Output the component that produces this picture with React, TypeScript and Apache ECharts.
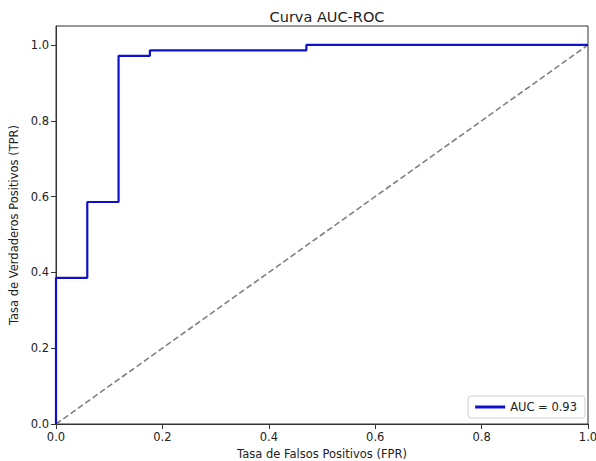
import React, { useEffect, useRef } from "react";
import * as echarts from "echarts";

const fpr = [0, 0, 0.0588, 0.0588, 0.1176, 0.1176, 0.1765, 0.1765, 0.4706, 0.4706, 1.0];
const tpr = [0, 0.3857, 0.3857, 0.5857, 0.5857, 0.9714, 0.9714, 0.9857, 0.9857, 1.0, 1.0];
const diagX = [0, 1];
const diagY = [0, 1];
const tickValues = [0, 0.2, 0.4, 0.6, 0.8, 1.0];
const legendLabel = "AUC = 0.93";
const titleText = "Curva AUC-ROC";
const xName = "Tasa de Falsos Positivos (FPR)";
const yName = "Tasa de Verdaderos Positivos (TPR)";

const FONT = "DejaVu Sans";

export default function App() {
  const ref = useRef<HTMLDivElement>(null);
  useEffect(() => {
    if (!ref.current) return;
    const chart = echarts.init(ref.current, null, { renderer: "svg" });
    const axisCommon = {
      type: "value" as const,
      interval: 0.2,
      splitLine: { show: false },
      axisLine: { show: true, lineStyle: { color: "#333", width: 1 } },
      axisTick: { show: true, inside: false, length: 5, lineStyle: { color: "#333" }, customValues: tickValues },
      axisLabel: {
        color: "#222",
        fontFamily: FONT,
        fontSize: 11.5,
        margin: 7,
        customValues: tickValues,
        formatter: (v: number) => v.toFixed(1),
      },
      nameLocation: "middle" as const,
      nameTextStyle: { color: "#222", fontFamily: FONT, fontSize: 11.5 },
    };
    chart.setOption({
      animation: false,
      backgroundColor: "#fff",
      title: {
        text: titleText,
        left: 322,
        textAlign: "center",
        top: 4,
        textStyle: { fontFamily: FONT, fontSize: 14.5, fontWeight: "normal", color: "#222" },
      },
      grid: {
        left: 56,
        right: 8,
        top: 26,
        bottom: 37,
        outerBoundsMode: "none",
        containLabel: false,
        show: true,
        borderColor: "#333",
        borderWidth: 1,
        backgroundColor: "transparent",
      },
      legend: {
        data: [legendLabel],
        right: 11,
        bottom: 43,
        orient: "vertical",
        icon: "path://M0,0 L30,0 L30,3 L0,3 Z",
        itemWidth: 30,
        itemHeight: 3,
        itemGap: 4,
        padding: [5, 8, 5, 7],
        borderColor: "#d0d0d0",
        borderWidth: 1,
        borderRadius: 3,
        backgroundColor: "rgba(255,255,255,0.8)",
        textStyle: { fontFamily: FONT, fontSize: 11.5, color: "#222" },
      },
      xAxis: {
        ...axisCommon,
        min: 0,
        max: 1,
        name: xName,
        nameGap: 23,
      },
      yAxis: {
        ...axisCommon,
        min: 0,
        max: 1.05,
        name: yName,
        nameGap: 30,
      },
      series: [
        {
          name: "diag",
          type: "line",
          data: diagX.map((x, i) => [x, diagY[i]]),
          showSymbol: false,
          symbol: "none",
          lineStyle: { color: "#808080", width: 1.6, type: [6, 3] },
          silent: true,
          z: 1,
        },
        {
          name: legendLabel,
          type: "line",
          data: fpr.map((x, i) => [x, tpr[i]]),
          showSymbol: false,
          symbol: "none",
          color: "#1010cc",
          lineStyle: { color: "#1010cc", width: 2.2 },
          z: 3,
        },
      ],
    });
    return () => chart.dispose();
  }, []);
  return <div ref={ref} style={{ width: 596, height: 461, position: "absolute", left: 0, top: 0 }} />;
}
